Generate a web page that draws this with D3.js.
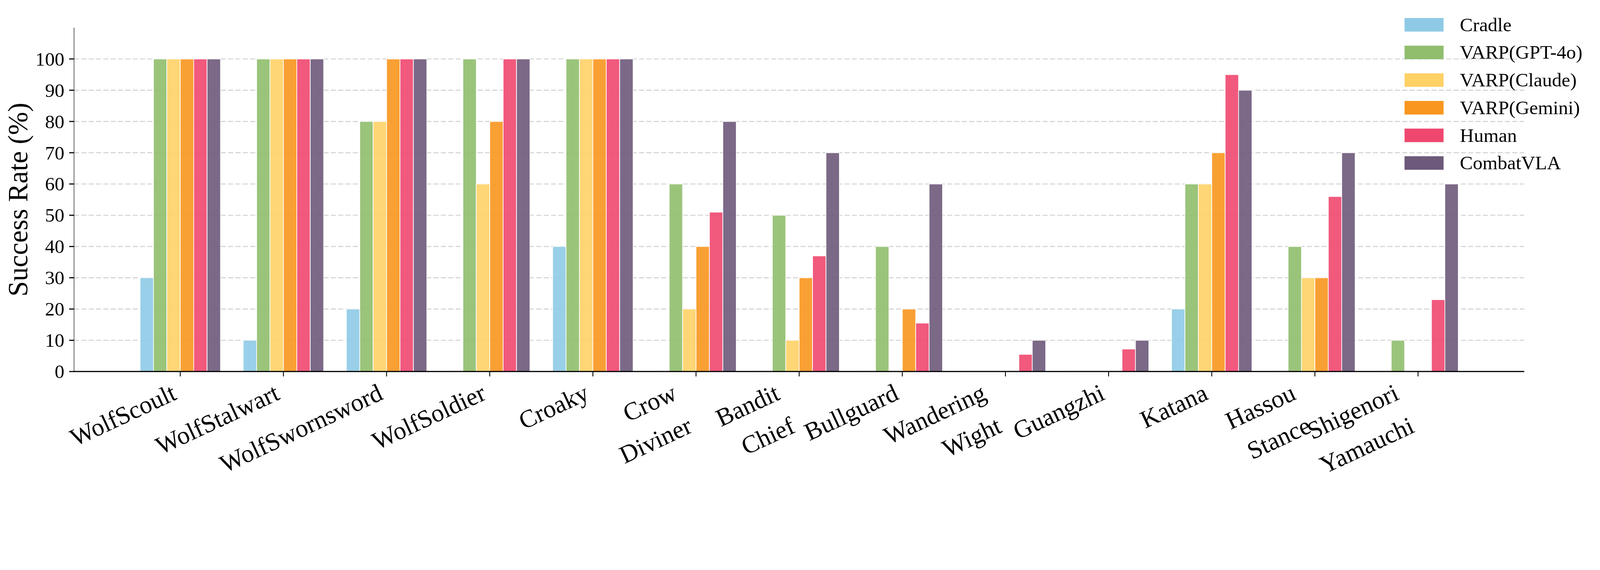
<!DOCTYPE html>
<html>
<head>
<meta charset="utf-8">
<script src="https://cdn.jsdelivr.net/npm/d3@7"></script>
<style>
  html, body { margin: 0; padding: 0; background: #fff; overflow: hidden; }
  svg { display: block; }
  text { font-family: "Liberation Serif", "Times New Roman", serif; }
</style>
</head>
<body>
<div id="chart"></div>
<script>
// Success rate per boss, one array per method
const bosses = ["WolfScoult", "WolfStalwart", "WolfSwornsword", "WolfSoldier", "Croaky",
  "Crow\nDiviner", "Bandit\nChief", "Bullguard", "Wandering\nWight", "Guangzhi",
  "Katana", "Hassou\nStance", "Shigenori\nYamauchi"];
const models = ["Cradle", "VARP(GPT-4o)", "VARP(Claude)", "VARP(Gemini)", "Human", "CombatVLA"];
const colors = ["#8ECAE6", "#90BE6D", "#FFD166", "#F8961E", "#EF476F", "#6D597A"];

const cradle     = [30, 10, 20, 0, 40, 0, 0, 0, 0, 0, 20, 0, 0];
const varpGpt    = [100, 100, 80, 100, 100, 60, 50, 40, 0, 0, 60, 40, 10];
const varpClaude = [100, 100, 80, 60, 100, 20, 10, 0, 0, 0, 60, 30, 0];
const varpGemini = [100, 100, 100, 80, 100, 40, 30, 20, 0, 0, 70, 30, 0];
const human      = [100, 100, 100, 100, 100, 51, 37, 15.5, 5.5, 7.2, 95, 56, 23];
const combatVLA  = [100, 100, 100, 100, 100, 80, 70, 60, 10, 10, 90, 70, 60];
const series = [cradle, varpGpt, varpClaude, varpGemini, human, combatVLA];

const yTicks = d3.range(0, 101, 10);

// drawing units = reference pixels; the viewBox scales them to the window
const W = 4797, H = 1458;
const plot = {left: 222, right: 4570, top: 83, bottom: 1113};
const barW = 0.13;   // in category units
const rot = 25;      // x label rotation

const svg = d3.select("#chart").append("svg")
  .attr("width", window.innerWidth)
  .attr("height", window.innerWidth * H / W)
  .attr("viewBox", `0 0 ${W} ${H}`)
  .style("background", "#fff");

const x = d3.scaleLinear().domain([-1.03, bosses.length - 1 + 1.03]).range([plot.left, plot.right]);
const y = d3.scaleLinear().domain([0, 110]).range([plot.bottom, plot.top]);

// grid
svg.append("g").selectAll("line")
  .data(yTicks.filter(d => d > 0))
  .join("line")
  .attr("x1", plot.left).attr("x2", plot.right)
  .attr("y1", d => y(d)).attr("y2", d => y(d))
  .attr("stroke", "#d0d0d0")
  .attr("stroke-width", 2.8)
  .attr("stroke-dasharray", "15,7");

// bars
const bw = x(barW) - x(0);
const flat = [];
series.forEach((vals, m) => vals.forEach((v, i) => flat.push({m, i, v})));
const barX = d => x(d.i + (d.m - 2.5) * barW) - bw / 2;

svg.append("g").selectAll("rect")
  .data(flat.filter(d => d.v > 0))
  .join("rect")
  .attr("x", barX)
  .attr("width", bw)
  .attr("y", d => y(d.v))
  .attr("height", d => y(0) - y(d.v))
  .attr("fill", d => colors[d.m])
  .attr("fill-opacity", 0.9)
  .attr("stroke", "#fff")
  .attr("stroke-width", 2);

// spines
svg.append("line")
  .attr("x1", plot.left).attr("x2", plot.left)
  .attr("y1", plot.top).attr("y2", plot.bottom)
  .attr("stroke", "#808080").attr("stroke-width", 3);
svg.append("line")
  .attr("x1", plot.left - 1.5).attr("x2", plot.right)
  .attr("y1", plot.bottom).attr("y2", plot.bottom)
  .attr("stroke", "#000").attr("stroke-width", 3.5);

// zero-height bars only leave a faint edge on the baseline
svg.append("g").selectAll("line")
  .data(flat.filter(d => d.v === 0))
  .join("line")
  .attr("x1", barX).attr("x2", d => barX(d) + bw)
  .attr("y1", y(0) - 2.6).attr("y2", y(0) - 2.6)
  .attr("stroke", "#d4d4d4").attr("stroke-width", 2.2);

// y axis ticks + labels
const yAxis = svg.append("g");
yAxis.selectAll("line")
  .data(yTicks)
  .join("line")
  .attr("x1", plot.left - 14.6).attr("x2", plot.left)
  .attr("y1", d => y(d)).attr("y2", d => y(d))
  .attr("stroke", "#000").attr("stroke-width", 3.3);
yAxis.selectAll("text")
  .data(yTicks)
  .join("text")
  .attr("x", plot.left - 29)
  .attr("y", d => y(d))
  .attr("dy", "0.34em")
  .attr("text-anchor", "end")
  .attr("font-size", 58)
  .text(d => d);

svg.append("text")
  .attr("transform", `translate(82, ${(plot.top + plot.bottom) / 2}) rotate(-90)`)
  .attr("text-anchor", "middle")
  .attr("font-size", 83)
  .text("Success Rate (%)");

// x ticks + labels
const xAxis = svg.append("g");
xAxis.selectAll("line")
  .data(bosses)
  .join("line")
  .attr("x1", (d, i) => x(i)).attr("x2", (d, i) => x(i))
  .attr("y1", plot.bottom).attr("y2", plot.bottom + 14.6)
  .attr("stroke", "#000").attr("stroke-width", 2.6);

// rotate first, then push the rotated box so its right edge sits on the tick
const labelTop = plot.bottom + 21;
const th = rot * Math.PI / 180;
xAxis.selectAll("text")
  .data(bosses)
  .join("text")
  .attr("font-size", 75)
  .attr("text-anchor", "end")
  .each(function(d, i) {
    const t = d3.select(this);
    t.selectAll("tspan").data(d.split("\n")).join("tspan")
      .attr("x", 0)
      .attr("dy", (l, j) => j === 0 ? 0 : "1.45em")
      .text(l => l);
    const b = this.getBBox();
    const corners = [[b.x, b.y], [b.x + b.width, b.y], [b.x, b.y + b.height], [b.x + b.width, b.y + b.height]]
      .map(([px, py]) => [px * Math.cos(th) + py * Math.sin(th), -px * Math.sin(th) + py * Math.cos(th)]);
    const maxX = d3.max(corners, c => c[0]);
    const minY = d3.min(corners, c => c[1]);
    t.attr("transform", `translate(${x(i) - maxX}, ${labelTop - minY}) rotate(${-rot})`);
  });

// legend
const leg = svg.append("g").attr("transform", "translate(4211, 54)");
const items = leg.selectAll("g")
  .data(models)
  .join("g")
  .attr("transform", (d, i) => `translate(0, ${i * 82.8})`);
items.append("rect")
  .attr("width", 117).attr("height", 40.6)
  .attr("fill", (d, i) => colors[i]);
items.append("text")
  .attr("x", 166)
  .attr("y", 20.3)
  .attr("dy", "0.33em")
  .attr("font-size", 58)
  .text(d => d);
</script>
</body>
</html>
